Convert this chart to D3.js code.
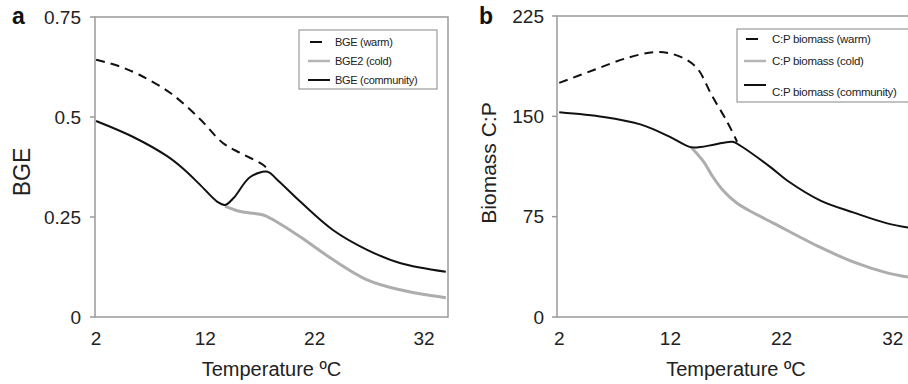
<!DOCTYPE html>
<html>
<head>
<meta charset="utf-8">
<script src="https://cdn.jsdelivr.net/npm/d3@7"></script>
<style>
  body { margin: 0; background: #fff; }
  svg { display: block; font-family: "Liberation Sans", Arial, sans-serif; }
</style>
</head>
<body>
<div id="chart"></div>
<script>
// panel a : BGE vs temperature
var tempA_warm = [2, 4, 6, 8.8, 11.5, 13.6, 15.2, 17.3, 17.9];
var bgeWarm    = [0.643, 0.628, 0.605, 0.56, 0.495, 0.435, 0.41, 0.38, 0.363];

var tempA_cold = [13.8, 15, 16.1, 17.3, 18.2, 20.7, 23.7, 26.8, 29.8, 34];
var bgeCold    = [0.277, 0.265, 0.26, 0.255, 0.243, 0.20, 0.143, 0.093, 0.068, 0.048];

var tempA_comm = [2, 5.4, 8.5, 10, 11.5, 13.1, 13.8, 14.6, 16.1, 17.7, 18.5, 20.7, 23.7, 26.8, 29.8, 34];
var bgeComm    = [0.49, 0.45, 0.402, 0.37, 0.331, 0.288, 0.28, 0.298, 0.35, 0.363, 0.345, 0.288, 0.217, 0.168, 0.135, 0.113];

// panel b : biomass C:P vs temperature
var tempB_warm = [2, 5.1, 8.1, 10.5, 12, 13.5, 14.5, 15.7, 17.1, 18];
var cpWarm     = [175, 184.6, 193.6, 198, 197, 192, 185, 166, 146, 131];

var tempB_cold = [13.8, 15, 15.8, 16.7, 18, 19, 21.3, 25.5, 28.5, 31.5, 34];
var cpCold     = [127.5, 116, 105, 95, 85, 80, 70, 52, 41, 33, 29];

var tempB_comm = [2, 6, 9.3, 10.7, 12, 13.8, 14.7, 16, 17.6, 18.3, 21, 22.5, 25.5, 28.5, 31.5, 34];
var cpComm     = [153, 149.5, 144, 139.5, 134.5, 127, 127, 129, 131, 128, 112, 102, 87, 78, 70, 66];

var xTicks = [2, 12, 22, 32];
var yTicksA = [0, 0.25, 0.5, 0.75];
var yTicksB = [0, 75, 150, 225];

var width = 908;
var height = 384;

var svg = d3.select("#chart")
    .append("svg")
    .attr("width", width)
    .attr("height", height);

function zip(xs, ys) {
    return xs.map(function(x, i) { return [x, ys[i]]; });
}

function drawPanel(cfg)
{
    var x = d3.scaleLinear().domain(cfg.xDomain).range([cfg.left, cfg.right]);
    var y = d3.scaleLinear().domain(cfg.yDomain).range([cfg.bottom, cfg.top]);

    var g = svg.append("g");

    // frame
    g.append("rect")
        .attr("x", cfg.left)
        .attr("y", cfg.top)
        .attr("width", cfg.right - cfg.left)
        .attr("height", cfg.bottom - cfg.top)
        .style("fill", "none")
        .style("stroke", "#9a9a9a")
        .style("stroke-width", 1.5);

    // y ticks + labels
    g.selectAll(".ytick")
        .data(cfg.yTicks)
        .enter()
        .append("line")
        .attr("x1", cfg.left - 5)
        .attr("x2", cfg.left)
        .attr("y1", function(d) { return y(d); })
        .attr("y2", function(d) { return y(d); })
        .style("stroke", "#9a9a9a")
        .style("stroke-width", 1.5);

    g.selectAll(".ylab")
        .data(cfg.yTicks)
        .enter()
        .append("text")
        .attr("x", cfg.left - cfg.labGap)
        .attr("y", function(d) { return y(d); })
        .attr("dy", "0.35em")
        .attr("text-anchor", "end")
        .style("font-size", "19px")
        .style("fill", "#222")
        .text(function(d) { return d3.format("~g")(d); });

    // x tick labels
    g.selectAll(".xlab")
        .data(xTicks)
        .enter()
        .append("text")
        .attr("x", function(d) { return x(d); })
        .attr("y", 345)
        .attr("text-anchor", "middle")
        .style("font-size", "19px")
        .style("fill", "#222")
        .text(function(d) { return d; });

    // axis titles
    g.append("text")
        .attr("x", (cfg.left + cfg.right) / 2)
        .attr("y", 376)
        .attr("text-anchor", "middle")
        .style("font-size", "20px")
        .style("fill", "#222")
        .text("Temperature \u00baC");

    g.append("text")
        .attr("transform", "translate(" + cfg.yTitleX + "," + cfg.yTitleY + ") rotate(-90)")
        .attr("text-anchor", "middle")
        .attr("dy", "0.35em")
        .style("font-size", cfg.yTitleSize)
        .style("fill", "#222")
        .text(cfg.yTitle);

    // panel letter
    g.append("text")
        .attr("x", cfg.letterX)
        .attr("y", 24)
        .style("font-size", "23px")
        .style("font-weight", "bold")
        .style("fill", "#111")
        .text(cfg.letter);

    var line = d3.line()
        .x(function(d) { return x(d[0]); })
        .y(function(d) { return y(d[1]); })
        .curve(d3.curveCatmullRom.alpha(0.5));

    // cold (gray) underneath
    g.append("path")
        .attr("d", line(cfg.cold))
        .style("fill", "none")
        .style("stroke", "#adadad")
        .style("stroke-width", 3);

    g.append("path")
        .attr("d", line(cfg.warm))
        .style("fill", "none")
        .style("stroke", "#111")
        .style("stroke-width", 2)
        .style("stroke-dasharray", "9,6");

    g.append("path")
        .attr("d", line(cfg.comm))
        .style("fill", "none")
        .style("stroke", "#111")
        .style("stroke-width", 2);

    // legend
    var L = cfg.legend;
    g.append("rect")
        .attr("x", L.x)
        .attr("y", L.y)
        .attr("width", L.w)
        .attr("height", L.h)
        .style("fill", "#fff")
        .style("stroke", "#9a9a9a")
        .style("stroke-width", 1.2);

    var items = [
        { label: L.labels[0], color: "#111", w: 2, x1: L.sx, x2: L.sx + 12, ly: L.ys[0], ty: L.ts[0] },
        { label: L.labels[1], color: "#b5b5b5", w: 2.5, x1: L.sx - 2, x2: L.sx + 20, ly: L.ys[1], ty: L.ts[1] },
        { label: L.labels[2], color: "#111", w: 2, x1: L.sx - 2, x2: L.sx + 20, ly: L.ys[2], ty: L.ts[2] }
    ];

    items.forEach(function(it) {
        g.append("line")
            .attr("x1", it.x1).attr("x2", it.x2)
            .attr("y1", it.ly).attr("y2", it.ly)
            .style("stroke", it.color)
            .style("stroke-width", it.w);
        g.append("text")
            .attr("x", L.tx)
            .attr("y", it.ty)
            .attr("dy", "0.35em")
            .style("font-size", L.fs)
            .style("letter-spacing", "-0.3px")
            .style("fill", "#222")
            .text(it.label);
    });
}

drawPanel({
    letter: "a", letterX: 12,
    left: 95, right: 448, top: 17, bottom: 317,
    xDomain: [1.9, 34.2], yDomain: [0, 0.75],
    yTicks: yTicksA, labGap: 14,
    yTitle: "BGE", yTitleX: 22, yTitleY: 172, yTitleSize: "23px",
    warm: zip(tempA_warm, bgeWarm),
    cold: zip(tempA_cold, bgeCold),
    comm: zip(tempA_comm, bgeComm),
    legend: {
        x: 299, y: 30, w: 138, h: 59, sx: 310, tx: 335, fs: "11px",
        ys: [42, 61, 80], ts: [42, 61, 80],
        labels: ["BGE (warm)", "BGE2 (cold)", "BGE (community)"]
    }
});

drawPanel({
    letter: "b", letterX: 479,
    left: 557, right: 915, top: 16, bottom: 317,
    xDomain: [1.8, 34], yDomain: [0, 225],
    yTicks: yTicksB, labGap: 13,
    yTitle: "Biomass C:P", yTitleX: 489, yTitleY: 163, yTitleSize: "21px",
    warm: zip(tempB_warm, cpWarm),
    cold: zip(tempB_cold, cpCold),
    comm: zip(tempB_comm, cpComm),
    legend: {
        x: 737, y: 29, w: 190, h: 73, sx: 746, tx: 772, fs: "11.5px",
        ys: [39, 61, 85], ts: [39, 61, 92],
        labels: ["C:P biomass (warm)", "C:P biomass (cold)", "C:P biomass (community)"]
    }
});
</script>
</body>
</html>
